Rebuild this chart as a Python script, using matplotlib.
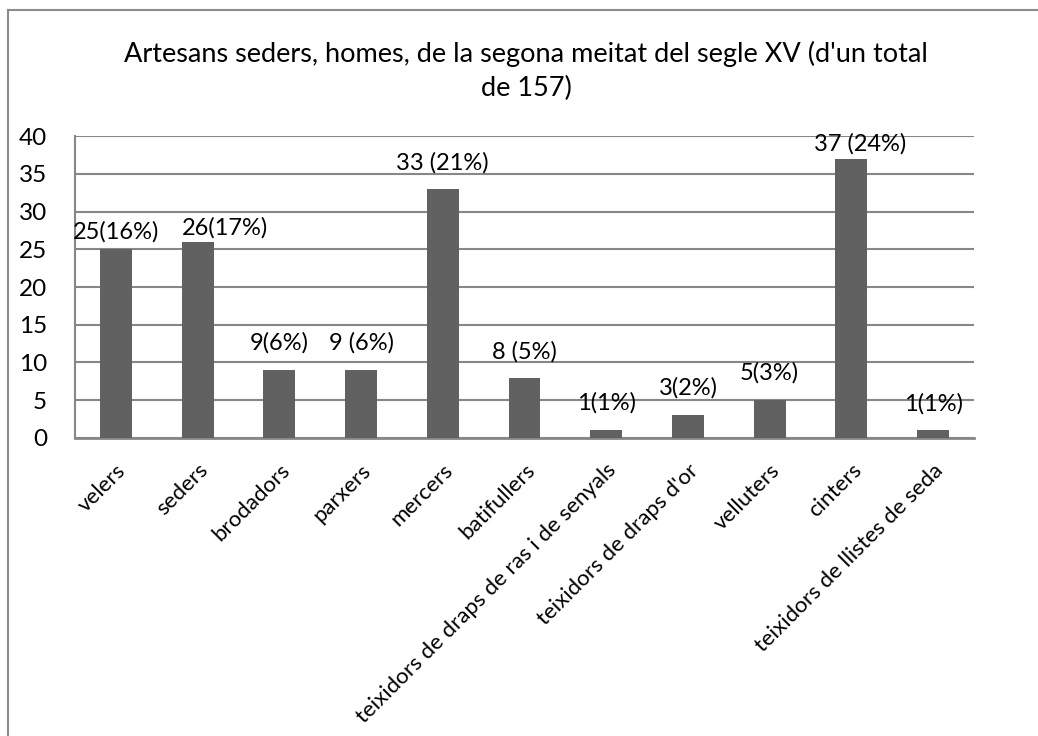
import matplotlib
matplotlib.use('Agg')
import matplotlib.pyplot as plt
from matplotlib.lines import Line2D

# Datos del gráfico
oficis = ['velers', 'seders', 'brodadors', 'parxers', 'mercers', 'batifullers',
          'teixidors de draps de ras i de senyals', "teixidors de draps d'or",
          'velluters', 'cinters', 'teixidors de llistes de seda']
artesans = [25, 26, 9, 9, 33, 8, 1, 3, 5, 37, 1]
etiquetes = ['25(16%)', '26(17%)', '9(6%)', '9 (6%)', '33 (21%)', '8 (5%)',
             '1(1%)', '3(2%)', '5(3%)', '37 (24%)', '1(1%)']
y_ticks = [0, 5, 10, 15, 20, 25, 30, 35, 40]

# desplaçament manual de les etiquetes (punts)
despl_x = [0, 20, 0, 0, 0, 0, 0, 0, 0, 6.5, 0]
despl_y = [8, 5, 14.5, 14.5, 14, 14, 15, 15, 15, 6, 14]

plt.rcParams['font.family'] = ['Lato', 'DejaVu Sans']

fig = plt.figure(figsize=(10.38, 7.36), dpi=100)
ax = fig.add_axes([0.0723, 0.405, 0.866, 0.41])

gris_linia = '#878787'
x = list(range(len(oficis)))
ax.bar(x, artesans, width=0.39, color='#616161', zorder=3)

for xi, v, t, dx, dy in zip(x, artesans, etiquetes, despl_x, despl_y):
    ax.annotate(t, (xi, v), xytext=(dx, dy), textcoords='offset points',
                ha='center', va='baseline', fontsize=17, zorder=4)

ax.set_xlim(-0.5, len(oficis) - 0.5)
ax.set_ylim(0, 40)
ax.set_yticks(y_ticks)
ax.set_yticklabels([str(v) for v in y_ticks], fontsize=17.5)
ax.set_xticks(x)
ax.set_xticklabels(oficis, rotation=45, ha='right', rotation_mode='anchor', fontsize=16)
ax.tick_params(axis='both', length=0)
ax.tick_params(axis='y', pad=20)
ax.tick_params(axis='x', pad=16)

ax.grid(axis='y', color=gris_linia, linewidth=1.5, zorder=0)
for s in ['top', 'right']:
    ax.spines[s].set_visible(False)
ax.spines['left'].set_color(gris_linia)
ax.spines['bottom'].set_color(gris_linia)
ax.spines['left'].set_linewidth(1.5)
ax.spines['bottom'].set_linewidth(2)

fig.text(0.507, 0.945, "Artesans seders, homes, de la segona meitat del segle XV (d'un total\nde 157)",
         ha='center', va='top', fontsize=19.5, linespacing=1.45)

# Vora del gràfic (només visible a l'esquerra i a dalt)
fig.add_artist(Line2D([0.008, 0.008], [0, 0.986], color='#8c8c8c', linewidth=1.5, transform=fig.transFigure))
fig.add_artist(Line2D([0.008, 1], [0.986, 0.986], color='#8c8c8c', linewidth=1.5, transform=fig.transFigure))

fig.savefig('out.png', dpi=100)
